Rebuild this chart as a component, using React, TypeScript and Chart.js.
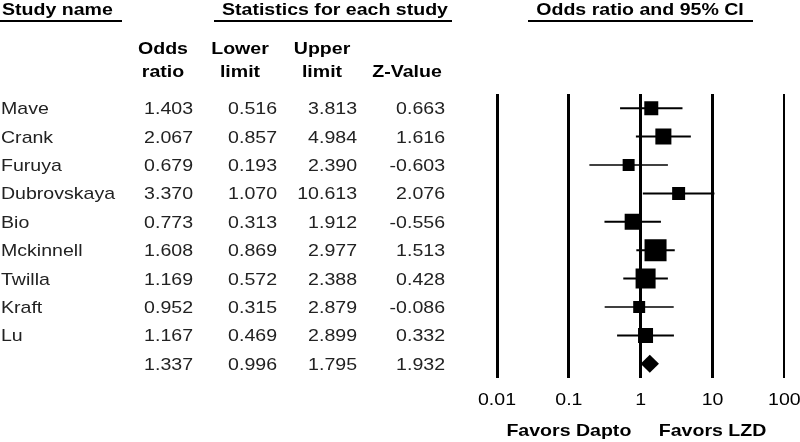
import React, { useEffect, useRef } from 'react';
import { Chart, registerables } from 'chart.js';

Chart.register(...registerables);

// ---- data ----
const studyNames = ['Mave', 'Crank', 'Furuya', 'Dubrovskaya', 'Bio', 'Mckinnell', 'Twilla', 'Kraft', 'Lu'];
const oddsRatio = [1.403, 2.067, 0.679, 3.370, 0.773, 1.608, 1.169, 0.952, 1.167];
const lowerLimit = [0.516, 0.857, 0.193, 1.070, 0.313, 0.869, 0.572, 0.315, 0.469];
const upperLimit = [3.813, 4.984, 2.390, 10.613, 1.912, 2.977, 2.388, 2.879, 2.899];
const zValue = [0.663, 1.616, -0.603, 2.076, -0.556, 1.513, 0.428, -0.086, 0.332];
// relative study weights (%)
const studyWeights = [8.6, 11.3, 6.3, 7.4, 11.3, 21.3, 17.6, 6.3, 9.9];

const summaryOdds = 1.337;
const summaryLower = 0.996;
const summaryUpper = 1.795;
const summaryZ = 1.932;

const axisTicks = [0.01, 0.1, 1, 10, 100];
const axisTickLabels = ['0.01', '0.1', '1', '10', '100'];
const favorsLabels = ['Favors Dapto', 'Favors LZD'];
const favorsAt = [0.1, 10];

const headerStudy = 'Study name';
const headerStats = 'Statistics for each study';
const headerPlot = 'Odds ratio and 95% CI';
const columnHeaders = [['Odds', 'ratio'], ['Lower', 'limit'], ['Upper', 'limit'], ['', 'Z-Value']];

// ---- styling ----
const FONT = '"Liberation Sans", Arial, Helvetica, sans-serif';
const SX = 1.15; // horizontal text stretch
const FS = 17;
const summaryRow = studyNames.length;

function drawText(ctx: CanvasRenderingContext2D, s: string, x: number, y: number, align: CanvasTextAlign, bold: boolean, color = '#000', size = FS) {
  ctx.save();
  ctx.translate(x, y);
  ctx.scale(SX, 1);
  ctx.font = `${bold ? 'bold ' : ''}${size}px ${FONT}`;
  ctx.textAlign = align;
  ctx.textBaseline = 'alphabetic';
  ctx.fillStyle = color;
  ctx.fillText(s, 0, 0);
  ctx.restore();
}

const forestPlugin = {
  id: 'forestPlugin',
  afterDatasetsDraw(chart: any) {
    const { ctx, scales } = chart;
    const x = scales.x, y = scales.y;
    const cy = y.getPixelForValue(summaryRow);
    const xl = x.getPixelForValue(summaryLower);
    const xr = x.getPixelForValue(summaryUpper);
    const xc = x.getPixelForValue(summaryOdds);
    ctx.save();
    ctx.beginPath();
    ctx.moveTo(xl, cy);
    ctx.lineTo(xc, cy - 9);
    ctx.lineTo(xr, cy);
    ctx.lineTo(xc, cy + 9);
    ctx.closePath();
    ctx.fillStyle = '#000';
    ctx.fill();
    ctx.restore();
  },
  afterDraw(chart: any) {
    const { ctx, scales } = chart;
    const x = scales.x, y = scales.y;
    ctx.save();
    // top headers
    drawText(ctx, headerStudy, 2, 15, 'left', true);
    drawText(ctx, headerStats, 335, 15, 'center', true);
    drawText(ctx, headerPlot, 640, 15, 'center', true);
    ctx.fillStyle = '#000';
    ctx.fillRect(0, 20, 122, 2);
    ctx.fillRect(214, 20, 238, 2);
    ctx.fillRect(528, 20, 225, 2);
    // column headers
    const colCenters = [163, 240, 322, 407];
    columnHeaders.forEach((pair, i) => {
      if (pair[0]) drawText(ctx, pair[0], colCenters[i], 54, 'center', true);
      drawText(ctx, pair[1], colCenters[i], 77, 'center', true);
    });
    // rows
    const colRight = [193, 277, 357, 445];
    const dataColor = '#222';
    for (let i = 0; i <= summaryRow; i++) {
      const py = y.getPixelForValue(i) + 6;
      const isSum = i === summaryRow;
      if (!isSum) drawText(ctx, studyNames[i], 1, py, 'left', false, dataColor);
      const vals = isSum
        ? [summaryOdds, summaryLower, summaryUpper, summaryZ]
        : [oddsRatio[i], lowerLimit[i], upperLimit[i], zValue[i]];
      vals.forEach((v, j) => drawText(ctx, v.toFixed(3), colRight[j], py, 'right', false, dataColor));
    }
    // axis tick labels
    axisTicks.forEach((v, i) => {
      drawText(ctx, axisTickLabels[i], x.getPixelForValue(v), 405, 'center', false);
    });
    favorsLabels.forEach((s, i) => {
      drawText(ctx, s, x.getPixelForValue(favorsAt[i]), 436, 'center', true);
    });
    ctx.restore();
  },
};

export default function App() {
  const canvasRef = useRef<HTMLCanvasElement | null>(null);

  useEffect(() => {
    const canvas = canvasRef.current;
    if (!canvas) return;

    const sideFor = (w: number) => 4.77 * Math.sqrt(w);

    const ciDatasets = studyNames.map((name, i) => ({
      type: 'scatter' as const,
      label: name + ' CI',
      data: [
        { x: lowerLimit[i], y: i },
        { x: upperLimit[i], y: i },
      ],
      showLine: true,
      borderColor: '#000',
      borderWidth: studyWeights[i] < 7 ? 1.4 : 2,
      pointRadius: 0,
      order: 2,
    }));

    const chart = new Chart(canvas, {
      type: 'scatter',
      data: {
        datasets: [
          {
            label: 'Odds ratio',
            data: oddsRatio.map((v, i) => ({ x: v, y: i })),
            pointStyle: 'rect',
            pointRadius: studyWeights.map((w) => sideFor(w) / Math.SQRT2),
            pointBackgroundColor: '#000',
            pointBorderWidth: 0,
            borderWidth: 0,
            order: 1,
          } as any,
          ...ciDatasets,
        ],
      },
      plugins: [forestPlugin],
      options: {
        responsive: false,
        animation: false,
        events: [],
        layout: { padding: { left: 497, right: 15, top: 94, bottom: 64 } },
        plugins: { legend: { display: false }, tooltip: { enabled: false } },
        scales: {
          x: {
            type: 'logarithmic',
            min: 0.01,
            max: 100,
            display: true,
            border: { display: false },
            grid: {
              color: '#000',
              drawTicks: false,
              lineWidth: (c: any) => (c.tick && c.tick.value === 100 ? 2 : 3),
            },
            ticks: { display: false },
            afterBuildTicks: (s: any) => {
              s.ticks = axisTicks.map((v) => ({ value: v }));
            },
          },
          y: {
            type: 'linear',
            min: -0.5,
            max: 9.5,
            reverse: true,
            display: false,
          },
        },
      } as any,
    });
    return () => chart.destroy();
  }, []);

  return (
    <div style={{ position: 'absolute', left: 0, top: 0, width: 800, height: 442, background: '#fff' }}>
      <canvas ref={canvasRef} width={800} height={442} style={{ display: 'block' }} />
    </div>
  );
}
